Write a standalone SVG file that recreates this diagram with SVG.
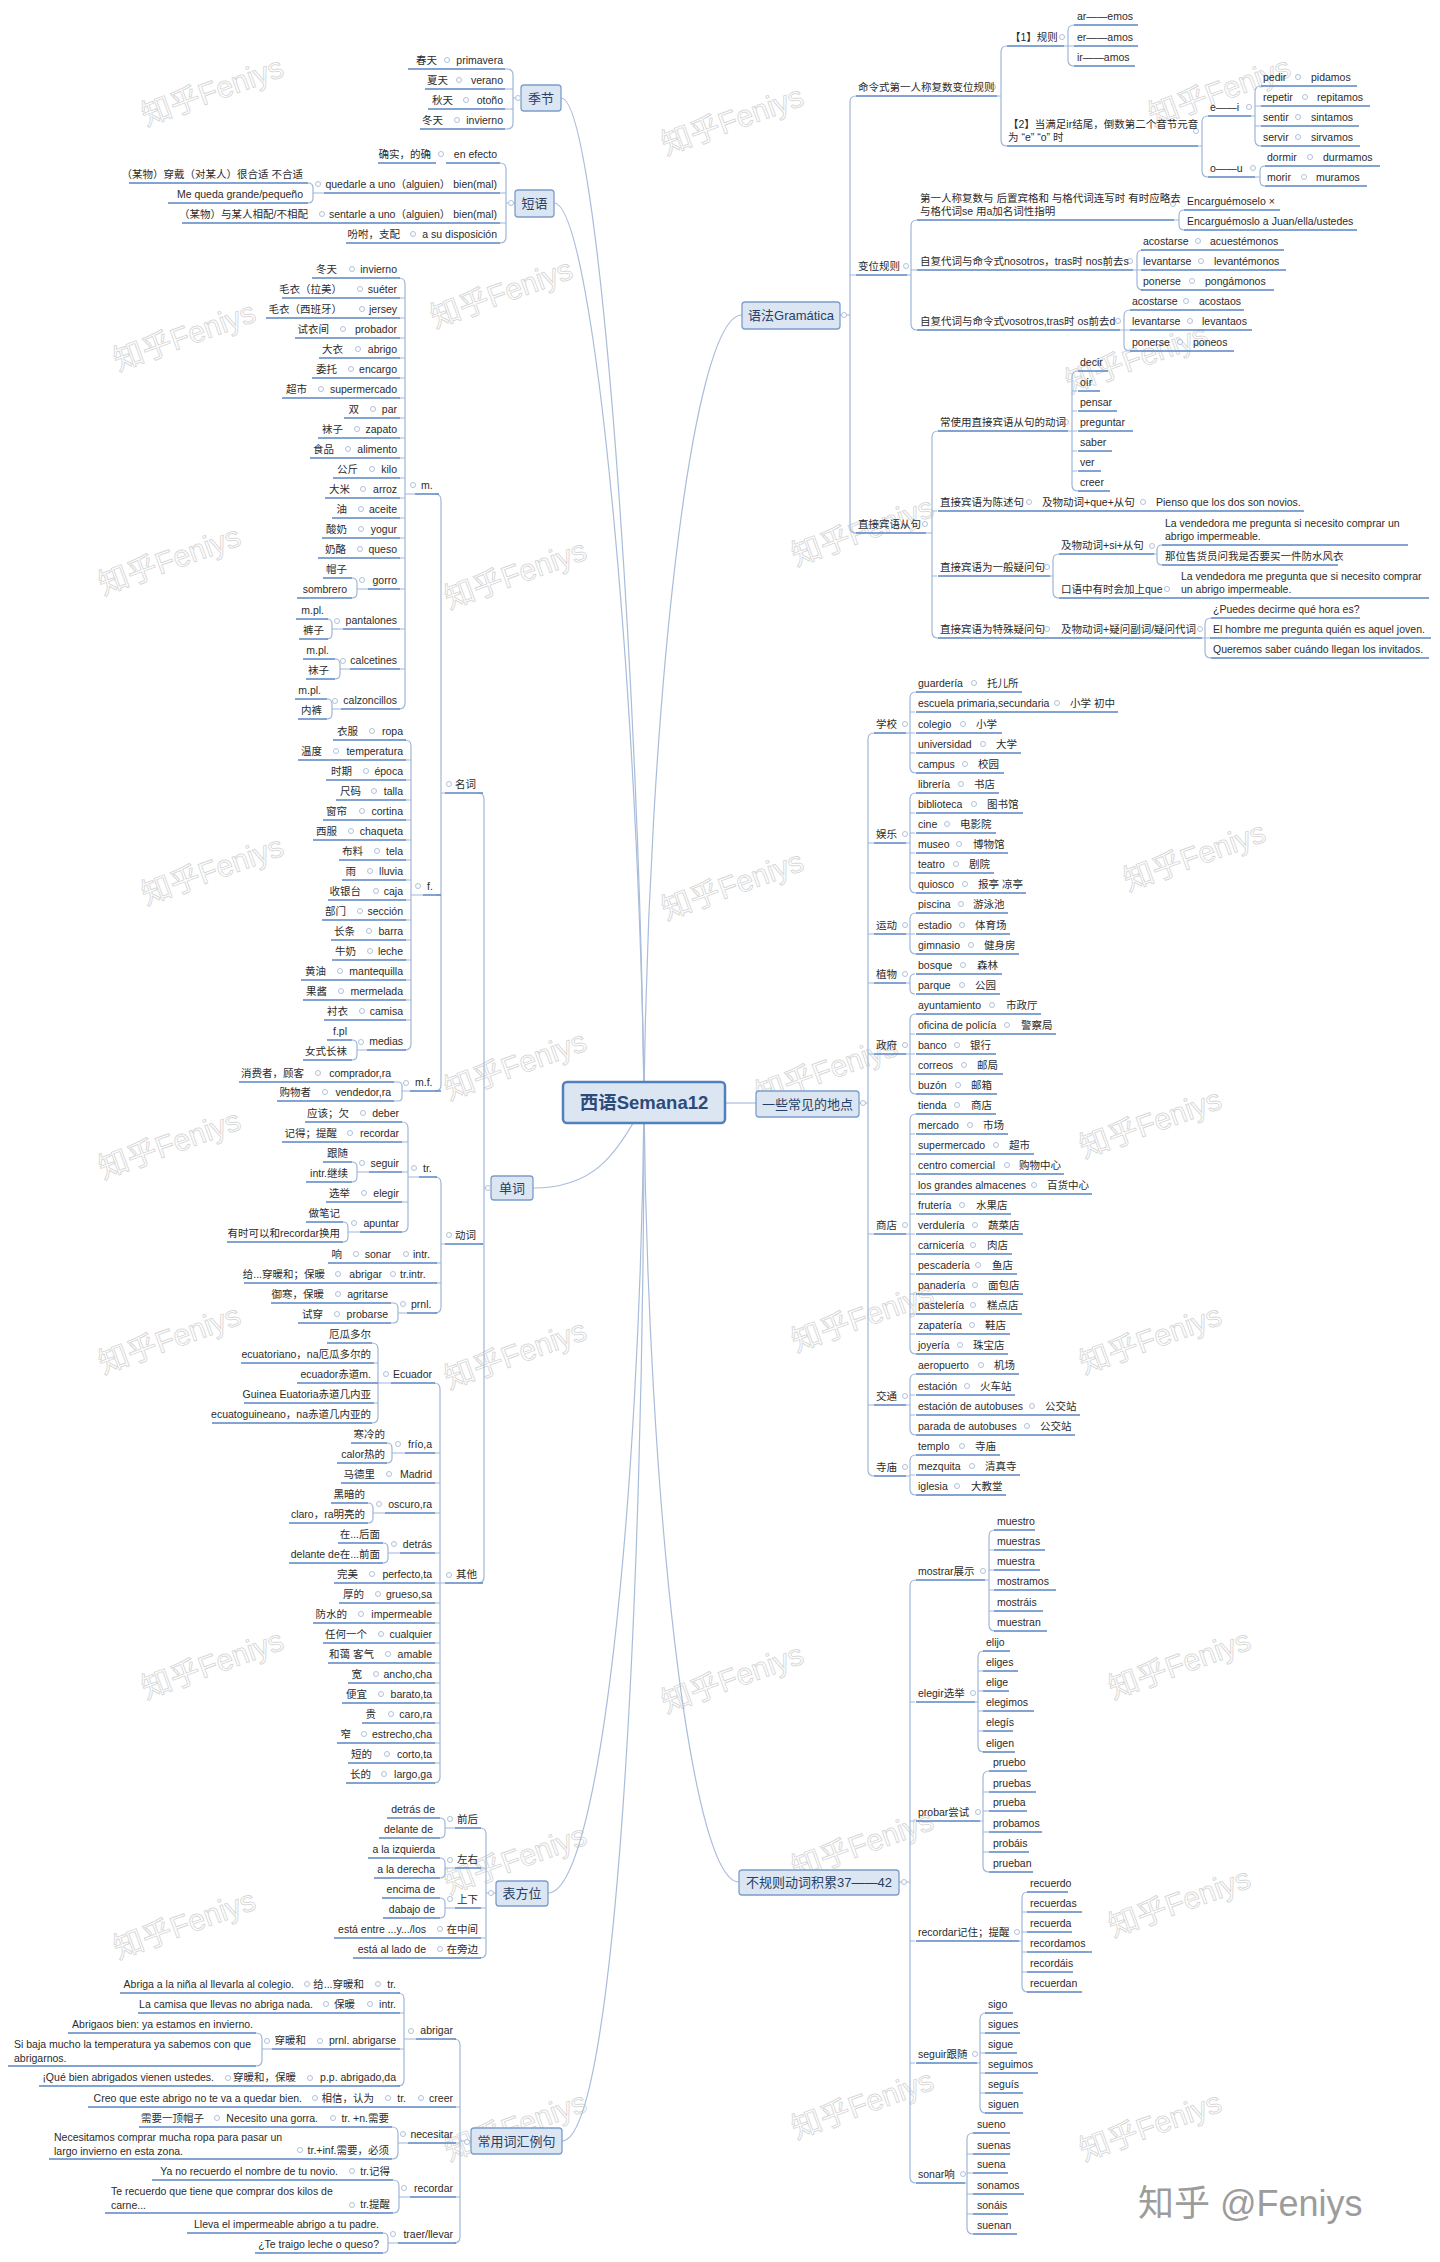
<svg xmlns="http://www.w3.org/2000/svg" width="1440" height="2262" viewBox="0 0 1440 2262">
<defs>
<style>
text{font-family:"Liberation Sans","Noto Sans CJK SC",sans-serif;font-size:10.5px;fill:#2b2b2b}
.r{text-anchor:end}
.u{stroke:#5A86C3;stroke-width:1.5;fill:none}
.c{stroke:#9FB6D9;stroke-width:1.2;fill:none}
.m{stroke:#A9BDDA;stroke-width:1.2;fill:none}
.d{fill:#fff;stroke:#AFC1DA;stroke-width:1}
.bx{fill:#DCE6F2;stroke:#7B9DCC;stroke-width:1.3}
.bt{font-size:13px;fill:#263F66;text-anchor:middle}
.wm{font-size:30px;fill:none;stroke:#d4d4d4;stroke-width:0.8;text-anchor:middle}
</style>
</defs>
<rect width="1440" height="2262" fill="#fff"/>
<g id="watermarks">
<text class="wm" transform="translate(216 101) rotate(-20)">知乎Feniys</text>
<text class="wm" transform="translate(736 130) rotate(-20)">知乎Feniys</text>
<text class="wm" transform="translate(505 303) rotate(-20)">知乎Feniys</text>
<text class="wm" transform="translate(188 346) rotate(-20)">知乎Feniys</text>
<text class="wm" transform="translate(1223 101) rotate(-20)">知乎Feniys</text>
<text class="wm" transform="translate(1140 368) rotate(-20)">知乎Feniys</text>
<text class="wm" transform="translate(173 570) rotate(-20)">知乎Feniys</text>
<text class="wm" transform="translate(519 584) rotate(-20)">知乎Feniys</text>
<text class="wm" transform="translate(866 541) rotate(-20)">知乎Feniys</text>
<text class="wm" transform="translate(216 880) rotate(-20)">知乎Feniys</text>
<text class="wm" transform="translate(736 895) rotate(-20)">知乎Feniys</text>
<text class="wm" transform="translate(1198 866) rotate(-20)">知乎Feniys</text>
<text class="wm" transform="translate(519 1075) rotate(-20)">知乎Feniys</text>
<text class="wm" transform="translate(830 1080) rotate(-20)">知乎Feniys</text>
<text class="wm" transform="translate(173 1154) rotate(-20)">知乎Feniys</text>
<text class="wm" transform="translate(1154 1133) rotate(-20)">知乎Feniys</text>
<text class="wm" transform="translate(173 1349) rotate(-20)">知乎Feniys</text>
<text class="wm" transform="translate(519 1364) rotate(-20)">知乎Feniys</text>
<text class="wm" transform="translate(866 1327) rotate(-20)">知乎Feniys</text>
<text class="wm" transform="translate(1154 1349) rotate(-20)">知乎Feniys</text>
<text class="wm" transform="translate(216 1674) rotate(-20)">知乎Feniys</text>
<text class="wm" transform="translate(736 1688) rotate(-20)">知乎Feniys</text>
<text class="wm" transform="translate(1183 1674) rotate(-20)">知乎Feniys</text>
<text class="wm" transform="translate(188 1934) rotate(-20)">知乎Feniys</text>
<text class="wm" transform="translate(519 1869) rotate(-20)">知乎Feniys</text>
<text class="wm" transform="translate(866 1854) rotate(-20)">知乎Feniys</text>
<text class="wm" transform="translate(1183 1912) rotate(-20)">知乎Feniys</text>
<text class="wm" transform="translate(519 2136) rotate(-20)">知乎Feniys</text>
<text class="wm" transform="translate(866 2114) rotate(-20)">知乎Feniys</text>
<text class="wm" transform="translate(1154 2136) rotate(-20)">知乎Feniys</text>
</g>
<g id="connectors">
<path class="m" d="M644 1103C640 700 600 98 561 98"/>
<path class="m" d="M644 1103C640 720 595 203 554 203"/>
<path class="m" d="M644 1103C648 720 690 315 742 315"/>
<path class="m" d="M644 1103C615 1160 590 1188 533 1188"/>
<path class="m" d="M644 1103C640 1500 600 1893 548 1893"/>
<path class="m" d="M644 1103C644 1600 615 2141 562 2141"/>
<path class="m" d="M644 1103C648 1500 690 1882 739 1882"/>
<path class="m" d="M725 1103H756"/>
<path class="c" d="M521 98H513M513 75V123M513 75Q513 69 507 69H505M513 123Q513 129 507 129H505M513 89H505M513 109H505"/>
<path class="c" d="M515 203H506M506 169V237M506 169Q506 163 500 163M506 237Q506 243 500 243M506 193H500M506 223H500"/>
<path class="c" d="M324 193H313M313 188V198M313 188Q313 183 308 183M313 198Q313 203 308 203"/>
<path class="c" d="M491 1188H484M484 799V1577M484 799Q484 793 478 793M484 1577Q484 1583 478 1583M484 1244H480"/>
<path class="c" d="M445 793H441M441 500V1085M441 500Q441 494 435 494M441 1085Q441 1091 435 1091M441 895H436"/>
<path class="c" d="M415 494H405M405 284V703M405 284Q405 278 399 278M405 703Q405 709 399 709M405 298H399M405 318H399M405 338H399M405 358H399M405 378H399M405 398H399M405 418H399M405 438H399M405 458H399M405 478H399M405 498H399M405 518H399M405 538H399M405 558H399M405 589H399M405 629H399M405 669H399"/>
<path class="c" d="M368 589H357M357 583V593M357 583Q357 578 352 578M357 593Q357 598 352 598"/>
<path class="c" d="M343 629H332M332 624V634M332 624Q332 619 327 619M332 634Q332 639 327 639"/>
<path class="c" d="M350 669H340M340 664V674M340 664Q340 659 335 659M340 674Q340 679 335 679"/>
<path class="c" d="M341 709H332M332 704V714M332 704Q332 699 327 699M332 714Q332 719 327 719"/>
<path class="c" d="M423 895H411M411 746V1044M411 746Q411 740 405 740M411 1044Q411 1050 405 1050M411 760H405M411 780H405M411 800H405M411 820H405M411 840H405M411 860H405M411 880H405M411 900H405M411 920H405M411 940H405M411 960H405M411 980H405M411 1000H405M411 1020H405"/>
<path class="c" d="M367 1050H357M357 1045V1055M357 1045Q357 1040 352 1040M357 1055Q357 1060 352 1060"/>
<path class="c" d="M410 1091H402M402 1086V1097M402 1086Q402 1082 398 1082H394M402 1097Q402 1101 398 1101H394"/>
<path class="c" d="M445 1244H441M441 1183V1307M441 1183Q441 1177 435 1177M441 1307Q441 1313 435 1313M441 1263H436M441 1283H436"/>
<path class="c" d="M419 1177H408M408 1128V1226M408 1128Q408 1122 402 1122M408 1226Q408 1232 402 1232M408 1142H402M408 1172H402M408 1202H402"/>
<path class="c" d="M369 1172H357M357 1167V1177M357 1167Q357 1162 352 1162M357 1177Q357 1182 352 1182"/>
<path class="c" d="M360 1232H348M348 1227V1237M348 1227Q348 1222 343 1222M348 1237Q348 1242 343 1242"/>
<path class="c" d="M407 1313H398M398 1308V1318M398 1308Q398 1303 393 1303H391M398 1318Q398 1323 393 1323H391"/>
<path class="c" d="M445 1583H440M440 1389V1777M440 1389Q440 1383 434 1383M440 1777Q440 1783 434 1783M440 1453H435M440 1483H435M440 1513H435M440 1553H435M440 1583H435M440 1603H435M440 1623H435M440 1643H435M440 1663H435M440 1683H435M440 1703H435M440 1723H435M440 1743H435M440 1763H435"/>
<path class="c" d="M391 1383H378M378 1349V1417M378 1349Q378 1343 372 1343M378 1417Q378 1423 372 1423M378 1363H374M378 1403H374"/>
<path class="c" d="M405 1453H392M392 1448V1458M392 1448Q392 1443 387 1443M392 1458Q392 1463 387 1463"/>
<path class="c" d="M385 1513H373M373 1508V1518M373 1508Q373 1503 368 1503M373 1518Q373 1523 368 1523"/>
<path class="c" d="M400 1553H388M388 1548V1558M388 1548Q388 1543 383 1543M388 1558Q388 1563 383 1563"/>
<path class="c" d="M496 1893H486M486 1834V1952M486 1834Q486 1828 480 1828M486 1952Q486 1958 480 1958M486 1868H481M486 1908H481M486 1938H481"/>
<path class="c" d="M455 1828H445M445 1823V1833M445 1823Q445 1818 440 1818M445 1833Q445 1838 440 1838"/>
<path class="c" d="M455 1868H445M445 1863V1873M445 1863Q445 1858 440 1858M445 1873Q445 1878 440 1878"/>
<path class="c" d="M455 1908H445M445 1903V1913M445 1903Q445 1898 440 1898M445 1913Q445 1918 440 1918"/>
<path class="c" d="M471 2141H460M460 2045V2237M460 2045Q460 2039 454 2039M460 2237Q460 2243 454 2243M460 2107H456M460 2143H456M460 2197H456"/>
<path class="c" d="M416 2039H404M404 1999V2080M404 1999Q404 1993 398 1993M404 2080Q404 2086 398 2086M404 2013H400M404 2049H400"/>
<path class="c" d="M272 2049H262M262 2039V2060M262 2039Q262 2033 256 2033M262 2060Q262 2066 256 2066"/>
<path class="c" d="M408 2143H398M398 2133V2153M398 2133Q398 2127 392 2127M398 2153Q398 2159 392 2159"/>
<path class="c" d="M410 2197H399M399 2186V2207M399 2186Q399 2180 393 2180M399 2207Q399 2213 393 2213"/>
<path class="c" d="M398 2243H388M388 2238V2248M388 2238Q388 2233 383 2233M388 2248Q388 2253 383 2253"/>
<path class="c" d="M840 315H850M850 102V527M850 102Q850 96 856 96M850 527Q850 533 856 533M850 275H856"/>
<path class="c" d="M997 96H1001M1001 52V140M1001 52Q1001 46 1007 46M1001 140Q1001 146 1007 146"/>
<path class="c" d="M1064 46H1074M1068 31V60M1068 31Q1068 25 1074 25M1068 60Q1068 66 1074 66"/>
<path class="c" d="M1198 146H1202M1202 122V171M1202 122Q1202 116 1208 116M1202 171Q1202 177 1208 177"/>
<path class="c" d="M1251 116H1255M1255 92V140M1255 92Q1255 86 1261 86M1255 140Q1255 146 1261 146M1255 106H1261M1255 126H1261"/>
<path class="c" d="M1255 177H1260M1260 171V181M1260 171Q1260 166 1265 166M1260 181Q1260 186 1265 186"/>
<path class="c" d="M907 275H911M911 226V324M911 226Q911 220 917 220M911 324Q911 330 917 330M911 270H917"/>
<path class="c" d="M1174 220H1179M1179 215V225M1179 215Q1179 210 1184 210M1179 225Q1179 230 1184 230"/>
<path class="c" d="M1133 270H1141M1137 256V284M1137 256Q1137 250 1143 250M1137 284Q1137 290 1143 290"/>
<path class="c" d="M1120 330H1130M1124 316V345M1124 316Q1124 310 1130 310M1124 345Q1124 351 1130 351"/>
<path class="c" d="M926 533H932M932 437V632M932 437Q932 431 938 431M932 632Q932 638 938 638M932 511H937M932 576H937"/>
<path class="c" d="M1068 431H1077M1072 377V485M1072 377Q1072 371 1078 371M1072 485Q1072 491 1078 491M1072 391H1077M1072 411H1077M1072 451H1077M1072 471H1077"/>
<path class="c" d="M1050 576H1053M1053 560V592M1053 560Q1053 554 1059 554M1053 592Q1053 598 1059 598"/>
<path class="c" d="M1154 554H1157M1157 550V560M1157 550Q1157 545 1162 545M1157 560Q1157 565 1162 565"/>
<path class="c" d="M1202 638H1210M1205 624V652M1205 624Q1205 618 1211 618M1205 652Q1205 658 1211 658"/>
<path class="c" d="M859 1103H868M868 739V1470M868 739Q868 733 874 733M868 1470Q868 1476 874 1476M868 843H874M868 934H874M868 983H874M868 1054H874M868 1234H874M868 1405H874"/>
<path class="c" d="M906 733H915M910 698V767M910 698Q910 692 916 692M910 767Q910 773 916 773M910 712H915M910 753H915"/>
<path class="c" d="M906 843H910M910 799V887M910 799Q910 793 916 793M910 887Q910 893 916 893M910 813H915M910 833H915M910 853H915M910 873H915"/>
<path class="c" d="M906 934H915M910 919V948M910 919Q910 913 916 913M910 948Q910 954 916 954"/>
<path class="c" d="M906 983H910M910 979V989M910 979Q910 974 915 974M910 989Q910 994 915 994"/>
<path class="c" d="M906 1054H915M910 1020V1088M910 1020Q910 1014 916 1014M910 1088Q910 1094 916 1094M910 1034H915M910 1074H915"/>
<path class="c" d="M906 1234H915M910 1120V1348M910 1120Q910 1114 916 1114M910 1348Q910 1354 916 1354M910 1134H915M910 1154H915M910 1174H915M910 1194H915M910 1214H915M910 1254H915M910 1274H915M910 1294H915M910 1314H915M910 1334H915"/>
<path class="c" d="M906 1405H910M910 1380V1429M910 1380Q910 1374 916 1374M910 1429Q910 1435 916 1435M910 1395H915M910 1415H915"/>
<path class="c" d="M906 1476H910M910 1461V1489M910 1461Q910 1455 916 1455M910 1489Q910 1495 916 1495M910 1475H915"/>
<path class="c" d="M898 1882H910M910 1586V2177M910 1586Q910 1580 916 1580M910 2177Q910 2183 916 2183M910 1702H915M910 1821H915M910 1941H915M910 2063H915"/>
<path class="c" d="M985 1580H989M989 1536V1625M989 1536Q989 1530 995 1530M989 1625Q989 1631 995 1631M989 1550H994M989 1570H994M989 1590H994M989 1611H994"/>
<path class="c" d="M975 1702H978M978 1657V1746M978 1657Q978 1651 984 1651M978 1746Q978 1752 984 1752M978 1671H983M978 1691H983M978 1711H983M978 1731H983"/>
<path class="c" d="M980 1821H983M983 1777V1866M983 1777Q983 1771 989 1771M983 1866Q983 1872 989 1872M983 1792H989M983 1811H989M983 1832H989M983 1852H989"/>
<path class="c" d="M1019 1941H1022M1022 1898V1986M1022 1898Q1022 1892 1028 1892M1022 1986Q1022 1992 1028 1992M1022 1912H1027M1022 1932H1027M1022 1952H1027M1022 1972H1027"/>
<path class="c" d="M977 2063H980M980 2019V2107M980 2019Q980 2013 986 2013M980 2107Q980 2113 986 2113M980 2033H985M980 2053H985M980 2073H985M980 2093H985"/>
<path class="c" d="M965 2183H967M967 2139V2228M967 2139Q967 2133 973 2133M967 2228Q967 2234 973 2234M967 2154H973M967 2173H973M967 2194H973M967 2214H973"/>
</g>
<g id="central"><rect x="563" y="1082" width="162" height="41" rx="4" fill="#DCE6F2" stroke="#4F81BD" stroke-width="2.5"/><text x="644" y="1109" text-anchor="middle" style="font-size:18.5px;font-weight:bold;fill:#2D4B78">西语Semana12</text></g>
<g id="t-jijie"><rect class="bx" x="521" y="85" width="40" height="26" rx="3"/><text class="bt" x="541" y="103">季节</text><circle class="d" cx="518" cy="98" r="2.5"/></g>
<g id="t-duanyu"><rect class="bx" x="515" y="190" width="39" height="27" rx="3"/><text class="bt" x="534.5" y="208">短语</text><circle class="d" cx="511" cy="203" r="2.5"/></g>
<g id="t-danci"><rect class="bx" x="491" y="1176" width="42" height="24" rx="3"/><text class="bt" x="512" y="1193">单词</text><circle class="d" cx="488" cy="1188" r="2.5"/></g>
<g id="t-fangwei"><rect class="bx" x="496" y="1881" width="52" height="25" rx="3"/><text class="bt" x="522" y="1898">表方位</text><circle class="d" cx="491" cy="1893" r="2.5"/></g>
<g id="t-lijuzi"><rect class="bx" x="471" y="2128" width="91" height="26" rx="3"/><text class="bt" x="516.5" y="2146">常用词汇例句</text><circle class="d" cx="467" cy="2142" r="2.5"/></g>
<g id="t-yufa"><rect class="bx" x="742" y="302" width="98" height="27" rx="3"/><text class="bt" x="791" y="320">语法Gramática</text><circle class="d" cx="844" cy="315" r="2.5"/></g>
<g id="t-didian"><rect class="bx" x="756" y="1091" width="103" height="26" rx="3"/><text class="bt" x="807.5" y="1109">一些常见的地点</text><circle class="d" cx="863" cy="1103" r="2.5"/></g>
<g id="t-bugui"><rect class="bx" x="739" y="1870" width="160" height="25" rx="3"/><text class="bt" x="819" y="1887">不规则动词积累37——42</text><circle class="d" cx="904" cy="1882" r="2.5"/></g>

<g id="n-primavera"><path class="u" d="M454 69H505"/><circle class="d" cx="447" cy="60" r="2.5"/><text class="r" x="503" y="64">primavera</text></g>
<g id="n-chuntian"><path class="u" d="M408 69H454"/><text class="r" x="437" y="64">春天</text></g>
<g id="n-verano"><path class="u" d="M464 89H505"/><circle class="d" cx="459" cy="80" r="2.5"/><text class="r" x="503" y="84">verano</text></g>
<g id="n-xiatian"><path class="u" d="M425 89H464"/><text class="r" x="448" y="84">夏天</text></g>
<g id="n-otono"><path class="u" d="M473 109H505"/><circle class="d" cx="466" cy="100" r="2.5"/><text class="r" x="503" y="104">otoño</text></g>
<g id="n-qiutian"><path class="u" d="M428 109H473"/><text class="r" x="453" y="104">秋天</text></g>
<g id="n-invierno0"><path class="u" d="M464 129H505"/><circle class="d" cx="457" cy="120" r="2.5"/><text class="r" x="503" y="124">invierno</text></g>
<g id="n-dongtian0"><path class="u" d="M420 129H464"/><text class="r" x="443" y="124">冬天</text></g>

<g id="n-enefecto"><path class="u" d="M446 163H500"/><circle class="d" cx="441" cy="154" r="2.5"/><text class="r" x="497" y="158">en efecto</text></g>
<g id="n-queshi"><path class="u" d="M378 163H436"/><text class="r" x="431" y="158">确实，的确</text></g>
<g id="n-quedarle"><path class="u" d="M324 193H500"/><circle class="d" cx="318" cy="184" r="2.5"/><text class="r" x="497" y="188">quedarle a uno（alguien） bien(mal)</text></g>
<g id="n-chuandai"><path class="u" d="M129 183H308"/><text class="r" x="303" y="178">（某物）穿戴（对某人）很合适 不合适</text></g>
<g id="n-mequeda"><path class="u" d="M168 203H308"/><text class="r" x="303" y="198">Me queda grande/pequeño</text></g>
<g id="n-sentarle"><path class="u" d="M329 223H500"/><circle class="d" cx="322" cy="214" r="2.5"/><text class="r" x="497" y="218">sentarle a uno（alguien） bien(mal)</text></g>
<g id="n-xiangpei"><path class="u" d="M182 223H329"/><text class="r" x="308" y="218">（某物）与某人相配/不相配</text></g>
<g id="n-asudisp"><path class="u" d="M420 243H500"/><circle class="d" cx="413" cy="234" r="2.5"/><text class="r" x="497" y="238">a su disposición</text></g>
<g id="n-fenfu"><path class="u" d="M346 243H420"/><text class="r" x="400" y="238">吩咐，支配</text></g>

<g id="n-mingci"><path class="u" d="M445 793H483"/><circle class="d" cx="449" cy="784" r="2.5"/><text x="455" y="788">名词</text></g>
<g id="n-m"><path class="u" d="M415 494H439"/><circle class="d" cx="413" cy="485" r="2.5"/><text x="421" y="489">m.</text></g>
<g id="n-m1"><path class="u" d="M357 278H400"/><circle class="d" cx="352" cy="269" r="2.5"/><text class="r" x="397" y="273">invierno</text></g>
<g id="n-m1a"><path class="u" d="M312 278H357"/><text class="r" x="337" y="273">冬天</text></g>
<g id="n-m2"><path class="u" d="M366 298H400"/><circle class="d" cx="360" cy="289" r="2.5"/><text class="r" x="397" y="293">suéter</text></g>
<g id="n-m2a"><path class="u" d="M282 298H366"/><text class="r" x="342" y="293">毛衣（拉美）</text></g>
<g id="n-m3"><path class="u" d="M367 318H400"/><circle class="d" cx="362" cy="309" r="2.5"/><text class="r" x="397" y="313">jersey</text></g>
<g id="n-m3a"><path class="u" d="M266 318H367"/><text class="r" x="342" y="313">毛衣（西班牙）</text></g>
<g id="n-m4"><path class="u" d="M350 338H400"/><circle class="d" cx="343" cy="329" r="2.5"/><text class="r" x="397" y="333">probador</text></g>
<g id="n-m4a"><path class="u" d="M295 338H350"/><text class="r" x="329" y="333">试衣间</text></g>
<g id="n-m5"><path class="u" d="M364 358H400"/><circle class="d" cx="358" cy="349" r="2.5"/><text class="r" x="397" y="353">abrigo</text></g>
<g id="n-m5a"><path class="u" d="M319 358H364"/><text class="r" x="343" y="353">大衣</text></g>
<g id="n-m6"><path class="u" d="M356 378H400"/><circle class="d" cx="351" cy="369" r="2.5"/><text class="r" x="397" y="373">encargo</text></g>
<g id="n-m6a"><path class="u" d="M312 378H356"/><text class="r" x="337" y="373">委托</text></g>
<g id="n-m7"><path class="u" d="M327 398H400"/><circle class="d" cx="321" cy="389" r="2.5"/><text class="r" x="397" y="393">supermercado</text></g>
<g id="n-m7a"><path class="u" d="M282 398H327"/><text class="r" x="307" y="393">超市</text></g>
<g id="n-m8"><path class="u" d="M379 418H400"/><circle class="d" cx="373" cy="409" r="2.5"/><text class="r" x="397" y="413">par</text></g>
<g id="n-m8a"><path class="u" d="M344 418H379"/><text class="r" x="359" y="413">双</text></g>
<g id="n-m9"><path class="u" d="M363 438H400"/><circle class="d" cx="357" cy="429" r="2.5"/><text class="r" x="397" y="433">zapato</text></g>
<g id="n-m9a"><path class="u" d="M318 438H363"/><text class="r" x="343" y="433">袜子</text></g>
<g id="n-m10"><path class="u" d="M354 458H400"/><circle class="d" cx="348" cy="449" r="2.5"/><text class="r" x="397" y="453">alimento</text></g>
<g id="n-m10a"><path class="u" d="M310 458H354"/><text class="r" x="334" y="453">食品</text></g>
<g id="n-m11"><path class="u" d="M379 478H400"/><circle class="d" cx="372" cy="469" r="2.5"/><text class="r" x="397" y="473">kilo</text></g>
<g id="n-m11a"><path class="u" d="M333 478H379"/><text class="r" x="358" y="473">公斤</text></g>
<g id="n-m12"><path class="u" d="M370 498H400"/><circle class="d" cx="363" cy="489" r="2.5"/><text class="r" x="397" y="493">arroz</text></g>
<g id="n-m12a"><path class="u" d="M325 498H370"/><text class="r" x="350" y="493">大米</text></g>
<g id="n-m13"><path class="u" d="M367 518H400"/><circle class="d" cx="361" cy="509" r="2.5"/><text class="r" x="397" y="513">aceite</text></g>
<g id="n-m13a"><path class="u" d="M332 518H367"/><text class="r" x="347" y="513">油</text></g>
<g id="n-m14"><path class="u" d="M367 538H400"/><circle class="d" cx="361" cy="529" r="2.5"/><text class="r" x="397" y="533">yogur</text></g>
<g id="n-m14a"><path class="u" d="M322 538H367"/><text class="r" x="347" y="533">酸奶</text></g>
<g id="n-m15"><path class="u" d="M366 558H400"/><circle class="d" cx="360" cy="549" r="2.5"/><text class="r" x="397" y="553">queso</text></g>
<g id="n-m15a"><path class="u" d="M318 558H366"/><text class="r" x="346" y="553">奶酪</text></g>
<g id="n-gorro"><path class="u" d="M368 589H400"/><circle class="d" cx="362" cy="580" r="2.5"/><text class="r" x="397" y="584">gorro</text></g>
<g id="n-maozi"><path class="u" d="M323 578H352"/><text class="r" x="347" y="573">帽子</text></g>
<g id="n-sombrero"><path class="u" d="M297 598H352"/><text class="r" x="347" y="593">sombrero</text></g>
<g id="n-pantalones"><path class="u" d="M343 629H400"/><circle class="d" cx="337" cy="621" r="2.5"/><text class="r" x="397" y="624">pantalones</text></g>
<g id="n-mpl1"><path class="u" d="M296 619H328"/><text class="r" x="324" y="614">m.pl.</text></g>
<g id="n-kuzi"><path class="u" d="M299 639H328"/><text class="r" x="324" y="634">裤子</text></g>
<g id="n-calcetines"><path class="u" d="M350 669H400"/><circle class="d" cx="343" cy="661" r="2.5"/><text class="r" x="397" y="664">calcetines</text></g>
<g id="n-mpl2"><path class="u" d="M303 659H335"/><text class="r" x="329" y="654">m.pl.</text></g>
<g id="n-wazi2"><path class="u" d="M306 679H335"/><text class="r" x="329" y="674">袜子</text></g>
<g id="n-calzoncillos"><path class="u" d="M341 709H400"/><circle class="d" cx="335" cy="701" r="2.5"/><text class="r" x="397" y="704">calzoncillos</text></g>
<g id="n-mpl3"><path class="u" d="M295 699H327"/><text class="r" x="321" y="694">m.pl.</text></g>
<g id="n-neiku"><path class="u" d="M298 719H327"/><text class="r" x="322" y="714">内裤</text></g>

<g id="n-f"><path class="u" d="M423 895H441"/><circle class="d" cx="418" cy="886" r="2.5"/><text x="427" y="890">f.</text></g>
<g id="n-f1"><path class="u" d="M378 740H406"/><circle class="d" cx="372" cy="731" r="2.5"/><text class="r" x="403" y="735">ropa</text></g>
<g id="n-f1a"><path class="u" d="M333 740H378"/><text class="r" x="358" y="735">衣服</text></g>
<g id="n-f2"><path class="u" d="M343 760H406"/><circle class="d" cx="336" cy="751" r="2.5"/><text class="r" x="403" y="755">temperatura</text></g>
<g id="n-f2a"><path class="u" d="M298 760H343"/><text class="r" x="322" y="755">温度</text></g>
<g id="n-f3"><path class="u" d="M372 780H406"/><circle class="d" cx="366" cy="771" r="2.5"/><text class="r" x="403" y="775">época</text></g>
<g id="n-f3a"><path class="u" d="M326 780H372"/><text class="r" x="352" y="775">时期</text></g>
<g id="n-f4"><path class="u" d="M381 800H406"/><circle class="d" cx="374" cy="791" r="2.5"/><text class="r" x="403" y="795">talla</text></g>
<g id="n-f4a"><path class="u" d="M336 800H381"/><text class="r" x="361" y="795">尺码</text></g>
<g id="n-f5"><path class="u" d="M368 820H406"/><circle class="d" cx="362" cy="811" r="2.5"/><text class="r" x="403" y="815">cortina</text></g>
<g id="n-f5a"><path class="u" d="M323 820H368"/><text class="r" x="347" y="815">窗帘</text></g>
<g id="n-f6"><path class="u" d="M358 840H406"/><circle class="d" cx="351" cy="831" r="2.5"/><text class="r" x="403" y="835">chaqueta</text></g>
<g id="n-f6a"><path class="u" d="M313 840H358"/><text class="r" x="337" y="835">西服</text></g>
<g id="n-f7"><path class="u" d="M384 860H406"/><circle class="d" cx="377" cy="851" r="2.5"/><text class="r" x="403" y="855">tela</text></g>
<g id="n-f7a"><path class="u" d="M339 860H384"/><text class="r" x="363" y="855">布料</text></g>
<g id="n-f8"><path class="u" d="M376 880H406"/><circle class="d" cx="370" cy="871" r="2.5"/><text class="r" x="403" y="875">lluvia</text></g>
<g id="n-f8a"><path class="u" d="M342 880H376"/><text class="r" x="356" y="875">雨</text></g>
<g id="n-f9"><path class="u" d="M382 900H406"/><circle class="d" cx="376" cy="891" r="2.5"/><text class="r" x="403" y="895">caja</text></g>
<g id="n-f9a"><path class="u" d="M328 900H382"/><text class="r" x="361" y="895">收银台</text></g>
<g id="n-f10"><path class="u" d="M366 920H406"/><circle class="d" cx="360" cy="911" r="2.5"/><text class="r" x="403" y="915">sección</text></g>
<g id="n-f10a"><path class="u" d="M322 920H366"/><text class="r" x="346" y="915">部门</text></g>
<g id="n-f11"><path class="u" d="M375 940H406"/><circle class="d" cx="369" cy="931" r="2.5"/><text class="r" x="403" y="935">barra</text></g>
<g id="n-f11a"><path class="u" d="M331 940H375"/><text class="r" x="355" y="935">长条</text></g>
<g id="n-f12"><path class="u" d="M376 960H406"/><circle class="d" cx="370" cy="951" r="2.5"/><text class="r" x="403" y="955">leche</text></g>
<g id="n-f12a"><path class="u" d="M332 960H376"/><text class="r" x="356" y="955">牛奶</text></g>
<g id="n-f13"><path class="u" d="M346 980H406"/><circle class="d" cx="340" cy="971" r="2.5"/><text class="r" x="403" y="975">mantequilla</text></g>
<g id="n-f13a"><path class="u" d="M301 980H346"/><text class="r" x="326" y="975">黄油</text></g>
<g id="n-f14"><path class="u" d="M348 1000H406"/><circle class="d" cx="341" cy="991" r="2.5"/><text class="r" x="403" y="995">mermelada</text></g>
<g id="n-f14a"><path class="u" d="M303 1000H348"/><text class="r" x="327" y="995">果酱</text></g>
<g id="n-f15"><path class="u" d="M369 1020H406"/><circle class="d" cx="362" cy="1011" r="2.5"/><text class="r" x="403" y="1015">camisa</text></g>
<g id="n-f15a"><path class="u" d="M324 1020H369"/><text class="r" x="348" y="1015">衬衣</text></g>
<g id="n-medias"><path class="u" d="M367 1050H406"/><circle class="d" cx="361" cy="1042" r="2.5"/><text class="r" x="403" y="1045">medias</text></g>
<g id="n-fpl"><path class="u" d="M327 1040H352"/><text class="r" x="347" y="1035">f.pl</text></g>
<g id="n-nvshi"><path class="u" d="M303 1060H352"/><text class="r" x="347" y="1055">女式长袜</text></g>
<g id="n-mf"><path class="u" d="M410 1091H441"/><circle class="d" cx="406" cy="1083" r="2.5"/><text x="415" y="1086">m.f.</text></g>
<g id="n-comprador"><path class="u" d="M324 1082H394"/><circle class="d" cx="318" cy="1073" r="2.5"/><text class="r" x="391" y="1077">comprador,ra</text></g>
<g id="n-xiaofei"><path class="u" d="M239 1082H324"/><text class="r" x="304" y="1077">消费者，顾客</text></g>
<g id="n-vendedor"><path class="u" d="M331 1101H394"/><circle class="d" cx="325" cy="1092" r="2.5"/><text class="r" x="391" y="1096">vendedor,ra</text></g>
<g id="n-gouwu"><path class="u" d="M277 1101H331"/><text class="r" x="311" y="1096">购物者</text></g>

<g id="n-dongci"><path class="u" d="M445 1244H483"/><circle class="d" cx="449" cy="1235" r="2.5"/><text x="455" y="1239">动词</text></g>
<g id="n-tr"><path class="u" d="M419 1177H437"/><circle class="d" cx="414" cy="1168" r="2.5"/><text x="423" y="1172">tr.</text></g>
<g id="n-deber"><path class="u" d="M369 1122H402"/><circle class="d" cx="363" cy="1113" r="2.5"/><text class="r" x="399" y="1117">deber</text></g>
<g id="n-yinggai"><path class="u" d="M305 1122H369"/><text class="r" x="349" y="1117">应该；欠</text></g>
<g id="n-recordar1"><path class="u" d="M356 1142H402"/><circle class="d" cx="350" cy="1133" r="2.5"/><text class="r" x="399" y="1137">recordar</text></g>
<g id="n-jide"><path class="u" d="M282 1142H356"/><text class="r" x="337" y="1137">记得；提醒</text></g>
<g id="n-seguir1"><path class="u" d="M369 1172H402"/><circle class="d" cx="362" cy="1163" r="2.5"/><text class="r" x="399" y="1167">seguir</text></g>
<g id="n-gensui"><path class="u" d="M323 1162H352"/><text class="r" x="348" y="1157">跟随</text></g>
<g id="n-jixu"><path class="u" d="M306 1182H352"/><text class="r" x="348" y="1177">intr.继续</text></g>
<g id="n-elegir1"><path class="u" d="M371 1202H402"/><circle class="d" cx="364" cy="1193" r="2.5"/><text class="r" x="399" y="1197">elegir</text></g>
<g id="n-xuanju"><path class="u" d="M326 1202H371"/><text class="r" x="350" y="1197">选举</text></g>
<g id="n-apuntar"><path class="u" d="M360 1232H402"/><circle class="d" cx="354" cy="1223" r="2.5"/><text class="r" x="399" y="1227">apuntar</text></g>
<g id="n-biji"><path class="u" d="M306 1222H343"/><text class="r" x="340" y="1217">做笔记</text></g>
<g id="n-huanyong"><path class="u" d="M227 1242H343"/><text class="r" x="340" y="1237">有时可以和recordar换用</text></g>
<g id="n-intr"><path class="u" d="M409 1263H437"/><circle class="d" cx="406" cy="1254" r="2.5"/><text x="413" y="1258">intr.</text></g>
<g id="n-sonar1"><path class="u" d="M363 1263H409"/><circle class="d" cx="356" cy="1254" r="2.5"/><text class="r" x="391" y="1258">sonar</text></g>
<g id="n-xiang1"><path class="u" d="M328 1263H363"/><text class="r" x="342" y="1258">响</text></g>
<g id="n-trintr"><path class="u" d="M396 1283H437"/><circle class="d" cx="393" cy="1274" r="2.5"/><text x="400" y="1278">tr.intr.</text></g>
<g id="n-abrigar1"><path class="u" d="M345 1283H396"/><circle class="d" cx="338" cy="1274" r="2.5"/><text class="r" x="382" y="1278">abrigar</text></g>
<g id="n-baonuan1"><path class="u" d="M244 1283H345"/><text class="r" x="325" y="1278">给...穿暖和；保暖</text></g>
<g id="n-prnl"><path class="u" d="M407 1313H437"/><circle class="d" cx="403" cy="1304" r="2.5"/><text x="411" y="1308">prnl.</text></g>
<g id="n-agritarse"><path class="u" d="M345 1303H391"/><circle class="d" cx="338" cy="1294" r="2.5"/><text class="r" x="388" y="1298">agritarse</text></g>
<g id="n-yuhan"><path class="u" d="M271 1303H345"/><text class="r" x="324" y="1298">御寒，保暖</text></g>
<g id="n-probarse"><path class="u" d="M343 1323H391"/><circle class="d" cx="337" cy="1314" r="2.5"/><text class="r" x="388" y="1318">probarse</text></g>
<g id="n-shichuan"><path class="u" d="M298 1323H343"/><text class="r" x="323" y="1318">试穿</text></g>

<g id="n-qita"><path class="u" d="M445 1583H483"/><circle class="d" cx="449" cy="1575" r="2.5"/><text x="456" y="1578">其他</text></g>
<g id="n-ecuador"><path class="u" d="M391 1383H435"/><circle class="d" cx="386" cy="1374" r="2.5"/><text class="r" x="432" y="1378">Ecuador</text></g>
<g id="n-ec1"><path class="u" d="M327 1343H372"/><text class="r" x="371" y="1338">厄瓜多尔</text></g>
<g id="n-ec2"><path class="u" d="M241 1363H374"/><text class="r" x="371" y="1358">ecuatoriano，na厄瓜多尔的</text></g>
<g id="n-ec3"><path class="u" d="M297 1383H378"/><text class="r" x="371" y="1378">ecuador赤道m.</text></g>
<g id="n-ec4"><path class="u" d="M244 1403H374"/><text class="r" x="371" y="1398">Guinea Euatoria赤道几内亚</text></g>
<g id="n-ec5"><path class="u" d="M212 1423H372"/><text class="r" x="371" y="1418">ecuatoguineano，na赤道几内亚的</text></g>
<g id="n-frio"><path class="u" d="M405 1453H435"/><circle class="d" cx="398" cy="1444" r="2.5"/><text class="r" x="432" y="1448">frío,a</text></g>
<g id="n-hanleng"><path class="u" d="M351 1443H387"/><text class="r" x="385" y="1438">寒冷的</text></g>
<g id="n-calor"><path class="u" d="M337 1463H387"/><text class="r" x="385" y="1458">calor热的</text></g>
<g id="n-madrid"><path class="u" d="M395 1483H435"/><circle class="d" cx="389" cy="1474" r="2.5"/><text class="r" x="432" y="1478">Madrid</text></g>
<g id="n-madeli"><path class="u" d="M341 1483H395"/><text class="r" x="375" y="1478">马德里</text></g>
<g id="n-oscuro"><path class="u" d="M385 1513H435"/><circle class="d" cx="379" cy="1504" r="2.5"/><text class="r" x="432" y="1508">oscuro,ra</text></g>
<g id="n-heian"><path class="u" d="M331 1503H368"/><text class="r" x="365" y="1498">黑暗的</text></g>
<g id="n-claro"><path class="u" d="M289 1523H368"/><text class="r" x="365" y="1518">claro，ra明亮的</text></g>
<g id="n-detras"><path class="u" d="M400 1553H435"/><circle class="d" cx="394" cy="1544" r="2.5"/><text class="r" x="432" y="1548">detrás</text></g>
<g id="n-houmian"><path class="u" d="M338 1543H383"/><text class="r" x="380" y="1538">在...后面</text></g>
<g id="n-delante"><path class="u" d="M289 1563H383"/><text class="r" x="380" y="1558">delante de在...前面</text></g>
<g id="n-o1"><path class="u" d="M379 1583H435"/><circle class="d" cx="372" cy="1574" r="2.5"/><text class="r" x="432" y="1578">perfecto,ta</text></g>
<g id="n-o1a"><path class="u" d="M334 1583H379"/><text class="r" x="358" y="1578">完美</text></g>
<g id="n-o2"><path class="u" d="M385 1603H435"/><circle class="d" cx="378" cy="1594" r="2.5"/><text class="r" x="432" y="1598">grueso,sa</text></g>
<g id="n-o2a"><path class="u" d="M339 1603H385"/><text class="r" x="364" y="1598">厚的</text></g>
<g id="n-o3"><path class="u" d="M368 1623H435"/><circle class="d" cx="361" cy="1614" r="2.5"/><text class="r" x="432" y="1618">impermeable</text></g>
<g id="n-o3a"><path class="u" d="M313 1623H368"/><text class="r" x="347" y="1618">防水的</text></g>
<g id="n-o4"><path class="u" d="M387 1643H435"/><circle class="d" cx="381" cy="1634" r="2.5"/><text class="r" x="432" y="1638">cualquier</text></g>
<g id="n-o4a"><path class="u" d="M323 1643H387"/><text class="r" x="367" y="1638">任何一个</text></g>
<g id="n-o5"><path class="u" d="M395 1663H435"/><circle class="d" cx="388" cy="1654" r="2.5"/><text class="r" x="432" y="1658">amable</text></g>
<g id="n-o5a"><path class="u" d="M328 1663H395"/><text class="r" x="374" y="1658">和蔼 客气</text></g>
<g id="n-o6"><path class="u" d="M382 1683H435"/><circle class="d" cx="376" cy="1674" r="2.5"/><text class="r" x="432" y="1678">ancho,cha</text></g>
<g id="n-o6a"><path class="u" d="M348 1683H382"/><text class="r" x="362" y="1678">宽</text></g>
<g id="n-o7"><path class="u" d="M387 1703H435"/><circle class="d" cx="381" cy="1694" r="2.5"/><text class="r" x="432" y="1698">barato,ta</text></g>
<g id="n-o7a"><path class="u" d="M342 1703H387"/><text class="r" x="367" y="1698">便宜</text></g>
<g id="n-o8"><path class="u" d="M397 1723H435"/><circle class="d" cx="391" cy="1714" r="2.5"/><text class="r" x="432" y="1718">caro,ra</text></g>
<g id="n-o8a"><path class="u" d="M362 1723H397"/><text class="r" x="376" y="1718">贵</text></g>
<g id="n-o9"><path class="u" d="M371 1743H435"/><circle class="d" cx="364" cy="1734" r="2.5"/><text class="r" x="432" y="1738">estrecho,cha</text></g>
<g id="n-o9a"><path class="u" d="M337 1743H371"/><text class="r" x="351" y="1738">窄</text></g>
<g id="n-o10"><path class="u" d="M393 1763H435"/><circle class="d" cx="387" cy="1754" r="2.5"/><text class="r" x="432" y="1758">corto,ta</text></g>
<g id="n-o10a"><path class="u" d="M348 1763H393"/><text class="r" x="372" y="1758">短的</text></g>
<g id="n-o11"><path class="u" d="M390 1783H435"/><circle class="d" cx="384" cy="1774" r="2.5"/><text class="r" x="432" y="1778">largo,ga</text></g>
<g id="n-o11a"><path class="u" d="M346 1783H390"/><text class="r" x="371" y="1778">长的</text></g>

<g id="n-qianhou"><path class="u" d="M455 1828H481"/><circle class="d" cx="450" cy="1819" r="2.5"/><text class="r" x="478" y="1823">前后</text></g>
<g id="n-detrasde"><path class="u" d="M387 1818H440"/><text class="r" x="435" y="1813">detrás de</text></g>
<g id="n-delantede"><path class="u" d="M379 1838H440"/><text class="r" x="433" y="1833">delante de</text></g>
<g id="n-zuoyou"><path class="u" d="M455 1868H481"/><circle class="d" cx="450" cy="1860" r="2.5"/><text class="r" x="478" y="1863">左右</text></g>
<g id="n-izq"><path class="u" d="M368 1858H440"/><text class="r" x="435" y="1853">a la izquierda</text></g>
<g id="n-der"><path class="u" d="M374 1878H440"/><text class="r" x="435" y="1873">a la derecha</text></g>
<g id="n-shangxia"><path class="u" d="M455 1908H481"/><circle class="d" cx="450" cy="1899" r="2.5"/><text class="r" x="478" y="1903">上下</text></g>
<g id="n-encima"><path class="u" d="M382 1898H440"/><text class="r" x="435" y="1893">encima de</text></g>
<g id="n-dabajo"><path class="u" d="M383 1918H440"/><text class="r" x="435" y="1913">dabajo de</text></g>
<g id="n-zhongjian"><path class="u" d="M445 1938H481"/><circle class="d" cx="440" cy="1929" r="2.5"/><text class="r" x="478" y="1933">在中间</text></g>
<g id="n-entre"><path class="u" d="M334 1938H445"/><text class="r" x="426" y="1933">está entre ...y.../los</text></g>
<g id="n-pangbian"><path class="u" d="M445 1958H481"/><circle class="d" cx="440" cy="1949" r="2.5"/><text class="r" x="478" y="1953">在旁边</text></g>
<g id="n-allado"><path class="u" d="M353 1958H445"/><text class="r" x="426" y="1953">está al lado de</text></g>

<g id="n-abrigar2"><path class="u" d="M416 2039H456"/><circle class="d" cx="411" cy="2031" r="2.5"/><text class="r" x="453" y="2034">abrigar</text></g>
<g id="n-ab-tr"><path class="u" d="M384 1993H400"/><circle class="d" cx="378" cy="1984" r="2.5"/><text class="r" x="396" y="1988">tr.</text></g>
<g id="n-ab-tr1"><path class="u" d="M313 1993H384"/><circle class="d" cx="307" cy="1984" r="2.5"/><text class="r" x="364" y="1988">给...穿暖和</text></g>
<g id="n-ab-tr2"><path class="u" d="M120 1993H313"/><text class="r" x="294" y="1988">Abriga a la niña al llevarla al colegio.</text></g>
<g id="n-ab-intr"><path class="u" d="M376 2013H400"/><circle class="d" cx="370" cy="2004" r="2.5"/><text class="r" x="396" y="2008">intr.</text></g>
<g id="n-ab-intr1"><path class="u" d="M331 2013H376"/><circle class="d" cx="326" cy="2004" r="2.5"/><text class="r" x="355" y="2008">保暖</text></g>
<g id="n-ab-intr2"><path class="u" d="M138 2013H331"/><text class="r" x="313" y="2008">La camisa que llevas no abriga nada.</text></g>
<g id="n-ab-prnl"><path class="u" d="M325 2049H400"/><circle class="d" cx="320" cy="2041" r="2.5"/><text class="r" x="396" y="2044">prnl. abrigarse</text></g>
<g id="n-ab-prnl1"><path class="u" d="M272 2049H325"/><circle class="d" cx="267" cy="2041" r="2.5"/><text class="r" x="306" y="2044">穿暖和</text></g>
<g id="n-ab-prnl2"><path class="u" d="M68 2033H256"/><text class="r" x="253" y="2028">Abrigaos bien: ya estamos en invierno.</text></g>
<g id="n-ab-prnl3"><path class="u" d="M8 2066H256"/><text x="14" y="2048">Si baja mucho la temperatura ya sabemos con que</text><text x="14" y="2062">abrigarnos.</text></g>
<g id="n-ab-pp"><path class="u" d="M315 2086H400"/><circle class="d" cx="310" cy="2078" r="2.5"/><text class="r" x="396" y="2081">p.p. abrigado,da</text></g>
<g id="n-ab-pp1"><path class="u" d="M232 2086H315"/><circle class="d" cx="228" cy="2078" r="2.5"/><text class="r" x="296" y="2081">穿暖和，保暖</text></g>
<g id="n-ab-pp2"><path class="u" d="M39 2086H232"/><text class="r" x="214" y="2081">¡Qué bien abrigados vienen ustedes.</text></g>
<g id="n-creer2"><path class="u" d="M427 2107H456"/><circle class="d" cx="421" cy="2098" r="2.5"/><text class="r" x="453" y="2102">creer</text></g>
<g id="n-cr-tr"><path class="u" d="M393 2107H427"/><circle class="d" cx="388" cy="2098" r="2.5"/><text class="r" x="406" y="2102">tr.</text></g>
<g id="n-cr-1"><path class="u" d="M320 2107H393"/><circle class="d" cx="315" cy="2098" r="2.5"/><text class="r" x="374" y="2102">相信，认为</text></g>
<g id="n-cr-2"><path class="u" d="M88 2107H320"/><text class="r" x="302" y="2102">Creo que este abrigo no te va a quedar bien.</text></g>
<g id="n-necesitar"><path class="u" d="M408 2143H456"/><circle class="d" cx="403" cy="2134" r="2.5"/><text class="r" x="453" y="2138">necesitar</text></g>
<g id="n-ne-1"><path class="u" d="M338 2127H392"/><circle class="d" cx="333" cy="2118" r="2.5"/><text class="r" x="389" y="2122">tr. +n.需要</text></g>
<g id="n-ne-1a"><path class="u" d="M223 2127H338"/><circle class="d" cx="217" cy="2118" r="2.5"/><text class="r" x="318" y="2122">Necesito una gorra.</text></g>
<g id="n-ne-1b"><path class="u" d="M139 2127H223"/><text class="r" x="204" y="2122">需要一顶帽子</text></g>
<g id="n-ne-2"><path class="u" d="M305 2159H392"/><circle class="d" cx="300" cy="2150" r="2.5"/><text class="r" x="389" y="2154">tr.+inf.需要，必须</text></g>
<g id="n-ne-2a"><path class="u" d="M49 2159H305"/><text x="54" y="2141">Necesitamos comprar mucha ropa para pasar un</text><text x="54" y="2155">largo invierno en esta zona.</text></g>
<g id="n-recordar2"><path class="u" d="M410 2197H456"/><circle class="d" cx="404" cy="2188" r="2.5"/><text class="r" x="453" y="2192">recordar</text></g>
<g id="n-re-1"><path class="u" d="M357 2180H393"/><circle class="d" cx="352" cy="2171" r="2.5"/><text class="r" x="390" y="2175">tr.记得</text></g>
<g id="n-re-1a"><path class="u" d="M152 2180H357"/><text class="r" x="338" y="2175">Ya no recuerdo el nombre de tu novio.</text></g>
<g id="n-re-2"><path class="u" d="M357 2213H393"/><circle class="d" cx="352" cy="2205" r="2.5"/><text class="r" x="390" y="2208">tr.提醒</text></g>
<g id="n-re-2a"><path class="u" d="M105 2213H357"/><text x="111" y="2195">Te recuerdo que tiene que comprar dos kilos de</text><text x="111" y="2209">carne...</text></g>
<g id="n-traer"><path class="u" d="M398 2243H456"/><circle class="d" cx="393" cy="2234" r="2.5"/><text class="r" x="453" y="2238">traer/llevar</text></g>
<g id="n-tr-1"><path class="u" d="M187 2233H383"/><text class="r" x="379" y="2228">Lleva el impermeable abrigo a tu padre.</text></g>
<g id="n-tr-2"><path class="u" d="M255 2253H383"/><text class="r" x="379" y="2248">¿Te traigo leche o queso?</text></g>

<g id="n-mingling"><path class="u" d="M856 96H997"/><circle class="d" cx="993" cy="87" r="2.5"/><text x="858" y="91">命令式第一人称复数变位规则</text></g>
<g id="n-guize1"><path class="u" d="M1007 46H1064"/><circle class="d" cx="1062" cy="37" r="2.5"/><text x="1010" y="41">【1】规则</text></g>
<g id="n-ar"><path class="u" d="M1074 25H1138"/><text x="1077" y="20">ar——emos</text></g>
<g id="n-er"><path class="u" d="M1074 46H1138"/><text x="1077" y="41">er——amos</text></g>
<g id="n-ir"><path class="u" d="M1074 66H1135"/><text x="1077" y="61">ir——amos</text></g>
<g id="n-guize2"><path class="u" d="M1007 146H1198"/><circle class="d" cx="1196" cy="131" r="2.5"/><text x="1008" y="128">【2】当满足ir结尾，倒数第二个音节元音</text><text x="1008" y="141">为 “e”  “o” 时</text></g>
<g id="n-ei"><path class="u" d="M1208 116H1251"/><circle class="d" cx="1249" cy="107" r="2.5"/><text x="1210" y="111">e——i</text></g>
<g id="n-pedir"><path class="u" d="M1261 86H1308"/><circle class="d" cx="1298" cy="77" r="2.5"/><text x="1263" y="81">pedir</text></g>
<g id="n-pidamos"><path class="u" d="M1308 86H1357"/><text x="1311" y="81">pidamos</text></g>
<g id="n-repetir"><path class="u" d="M1261 106H1314"/><circle class="d" cx="1305" cy="97" r="2.5"/><text x="1263" y="101">repetir</text></g>
<g id="n-repitamos"><path class="u" d="M1314 106H1370"/><text x="1317" y="101">repitamos</text></g>
<g id="n-sentir"><path class="u" d="M1261 126H1308"/><circle class="d" cx="1298" cy="117" r="2.5"/><text x="1263" y="121">sentir</text></g>
<g id="n-sintamos"><path class="u" d="M1308 126H1359"/><text x="1311" y="121">sintamos</text></g>
<g id="n-servir"><path class="u" d="M1261 146H1308"/><circle class="d" cx="1298" cy="137" r="2.5"/><text x="1263" y="141">servir</text></g>
<g id="n-sirvamos"><path class="u" d="M1308 146H1360"/><text x="1311" y="141">sirvamos</text></g>
<g id="n-ou"><path class="u" d="M1208 177H1255"/><circle class="d" cx="1253" cy="168" r="2.5"/><text x="1210" y="172">o——u</text></g>
<g id="n-dormir"><path class="u" d="M1265 166H1320"/><circle class="d" cx="1310" cy="157" r="2.5"/><text x="1267" y="161">dormir</text></g>
<g id="n-durmamos"><path class="u" d="M1320 166H1380"/><text x="1323" y="161">durmamos</text></g>
<g id="n-morir"><path class="u" d="M1265 186H1313"/><circle class="d" cx="1304" cy="177" r="2.5"/><text x="1267" y="181">morir</text></g>
<g id="n-muramos"><path class="u" d="M1313 186H1367"/><text x="1316" y="181">muramos</text></g>
<g id="n-bianwei"><path class="u" d="M856 275H907"/><circle class="d" cx="906" cy="266" r="2.5"/><text x="858" y="270">变位规则</text></g>
<g id="n-diyi"><path class="u" d="M917 220H1174"/><circle class="d" cx="1173" cy="204" r="2.5"/><text x="920" y="202">第一人称复数与 后置宾格和 与格代词连写时 有时应略去</text><text x="920" y="215">与格代词se 用a加名词性指明</text></g>
<g id="n-enc1"><path class="u" d="M1184 210H1280"/><text x="1187" y="205">Encarguémoselo ×</text></g>
<g id="n-enc2"><path class="u" d="M1184 230H1357"/><text x="1187" y="225">Encarguémoslo a Juan/ella/ustedes</text></g>
<g id="n-nos"><path class="u" d="M917 270H1133"/><circle class="d" cx="1130" cy="261" r="2.5"/><text x="920" y="265">自复代词与命令式nosotros，tras时 nos前去s</text></g>
<g id="n-nos1"><path class="u" d="M1141 250H1207"/><circle class="d" cx="1198" cy="241" r="2.5"/><text x="1143" y="245">acostarse</text></g>
<g id="n-nos1a"><path class="u" d="M1207 250H1284"/><text x="1210" y="245">acuestémonos</text></g>
<g id="n-nos2"><path class="u" d="M1141 270H1211"/><circle class="d" cx="1201" cy="261" r="2.5"/><text x="1143" y="265">levantarse</text></g>
<g id="n-nos2a"><path class="u" d="M1211 270H1286"/><text x="1214" y="265">levantémonos</text></g>
<g id="n-nos3"><path class="u" d="M1141 290H1202"/><circle class="d" cx="1192" cy="281" r="2.5"/><text x="1143" y="285">ponerse</text></g>
<g id="n-nos3a"><path class="u" d="M1202 290H1274"/><text x="1205" y="285">pongámonos</text></g>
<g id="n-vos"><path class="u" d="M917 330H1120"/><circle class="d" cx="1118" cy="321" r="2.5"/><text x="920" y="325">自复代词与命令式vosotros,tras时 os前去d</text></g>
<g id="n-vos1"><path class="u" d="M1130 310H1196"/><circle class="d" cx="1186" cy="301" r="2.5"/><text x="1132" y="305">acostarse</text></g>
<g id="n-vos1a"><path class="u" d="M1196 310H1244"/><text x="1199" y="305">acostaos</text></g>
<g id="n-vos2"><path class="u" d="M1130 330H1199"/><circle class="d" cx="1190" cy="321" r="2.5"/><text x="1132" y="325">levantarse</text></g>
<g id="n-vos2a"><path class="u" d="M1199 330H1252"/><text x="1202" y="325">levantaos</text></g>
<g id="n-vos3"><path class="u" d="M1130 351H1190"/><circle class="d" cx="1180" cy="342" r="2.5"/><text x="1132" y="346">ponerse</text></g>
<g id="n-vos3a"><path class="u" d="M1190 351H1234"/><text x="1193" y="346">poneos</text></g>
<g id="n-zhijie"><path class="u" d="M856 533H926"/><circle class="d" cx="925" cy="524" r="2.5"/><text x="858" y="528">直接宾语从句</text></g>
<g id="n-changshi"><path class="u" d="M938 431H1068"/><circle class="d" cx="1066" cy="422" r="2.5"/><text x="940" y="426">常使用直接宾语从句的动词</text></g>
<g id="n-decir"><path class="u" d="M1078 371H1108"/><text x="1080" y="366">decir</text></g>
<g id="n-oir"><path class="u" d="M1078 391H1100"/><text x="1080" y="386">oír</text></g>
<g id="n-pensar"><path class="u" d="M1078 411H1117"/><text x="1080" y="406">pensar</text></g>
<g id="n-preguntar"><path class="u" d="M1078 431H1133"/><text x="1080" y="426">preguntar</text></g>
<g id="n-saber"><path class="u" d="M1078 451H1112"/><text x="1080" y="446">saber</text></g>
<g id="n-ver"><path class="u" d="M1078 471H1101"/><text x="1080" y="466">ver</text></g>
<g id="n-creer1"><path class="u" d="M1078 491H1110"/><text x="1080" y="486">creer</text></g>
<g id="n-chenshu"><path class="u" d="M938 511H1039"/><circle class="d" cx="1029" cy="502" r="2.5"/><text x="940" y="506">直接宾语为陈述句</text></g>
<g id="n-que"><path class="u" d="M1039 511H1146"/><circle class="d" cx="1143" cy="502" r="2.5"/><text x="1042" y="506">及物动词+que+从句</text></g>
<g id="n-pienso"><path class="u" d="M1146 511H1304"/><text x="1156" y="506">Pienso que los dos son novios.</text></g>
<g id="n-yiban"><path class="u" d="M938 576H1050"/><circle class="d" cx="1047" cy="567" r="2.5"/><text x="940" y="571">直接宾语为一般疑问句</text></g>
<g id="n-si"><path class="u" d="M1059 554H1154"/><circle class="d" cx="1152" cy="546" r="2.5"/><text x="1061" y="549">及物动词+si+从句</text></g>
<g id="n-si1"><path class="u" d="M1162 545H1408"/><text x="1165" y="527">La vendedora me pregunta si necesito comprar un</text><text x="1165" y="540">abrigo impermeable.</text></g>
<g id="n-si2"><path class="u" d="M1162 565H1338"/><text x="1165" y="560">那位售货员问我是否要买一件防水风衣</text></g>
<g id="n-kouyu"><path class="u" d="M1059 598H1170"/><circle class="d" cx="1167" cy="589" r="2.5"/><text x="1061" y="593">口语中有时会加上que</text></g>
<g id="n-kouyu1"><path class="u" d="M1170 598H1429"/><text x="1181" y="580">La vendedora me pregunta que si necesito comprar</text><text x="1181" y="593">un abrigo impermeable.</text></g>
<g id="n-teshu"><path class="u" d="M938 638H1050"/><circle class="d" cx="1047" cy="629" r="2.5"/><text x="940" y="633">直接宾语为特殊疑问句</text></g>
<g id="n-yiwen"><path class="u" d="M1050 638H1202"/><circle class="d" cx="1200" cy="629" r="2.5"/><text x="1061" y="633">及物动词+疑问副词/疑问代词</text></g>
<g id="n-puedes"><path class="u" d="M1211 618H1360"/><text x="1213" y="613">¿Puedes decirme qué hora es?</text></g>
<g id="n-hombre"><path class="u" d="M1210 638H1431"/><text x="1213" y="633">El hombre me pregunta quién es aquel joven.</text></g>
<g id="n-queremos"><path class="u" d="M1211 658H1429"/><text x="1213" y="653">Queremos saber cuándo llegan los invitados.</text></g>

<g id="n-xuexiao"><path class="u" d="M874 733H906"/><circle class="d" cx="905" cy="724" r="2.5"/><text x="876" y="728">学校</text></g>
<g id="n-p1"><path class="u" d="M916 692H984"/><circle class="d" cx="974" cy="683" r="2.5"/><text x="918" y="687">guardería</text></g>
<g id="n-p1a"><path class="u" d="M984 692H1022"/><text x="987" y="687">托儿所</text></g>
<g id="n-p2"><path class="u" d="M916 712H1067"/><circle class="d" cx="1057" cy="703" r="2.5"/><text x="918" y="707">escuela primaria,secundaria</text></g>
<g id="n-p2a"><path class="u" d="M1067 712H1118"/><text x="1070" y="707">小学 初中</text></g>
<g id="n-p3"><path class="u" d="M916 733H973"/><circle class="d" cx="963" cy="724" r="2.5"/><text x="918" y="728">colegio</text></g>
<g id="n-p3a"><path class="u" d="M973 733H1002"/><text x="976" y="728">小学</text></g>
<g id="n-p4"><path class="u" d="M916 753H993"/><circle class="d" cx="983" cy="744" r="2.5"/><text x="918" y="748">universidad</text></g>
<g id="n-p4a"><path class="u" d="M993 753H1021"/><text x="996" y="748">大学</text></g>
<g id="n-p5"><path class="u" d="M916 773H975"/><circle class="d" cx="965" cy="764" r="2.5"/><text x="918" y="768">campus</text></g>
<g id="n-p5a"><path class="u" d="M975 773H1004"/><text x="978" y="768">校园</text></g>
<g id="n-yule"><path class="u" d="M874 843H906"/><circle class="d" cx="905" cy="834" r="2.5"/><text x="876" y="838">娱乐</text></g>
<g id="n-p6"><path class="u" d="M916 793H971"/><circle class="d" cx="961" cy="784" r="2.5"/><text x="918" y="788">librería</text></g>
<g id="n-p6a"><path class="u" d="M971 793H999"/><text x="974" y="788">书店</text></g>
<g id="n-p7"><path class="u" d="M916 813H984"/><circle class="d" cx="974" cy="804" r="2.5"/><text x="918" y="808">biblioteca</text></g>
<g id="n-p7a"><path class="u" d="M984 813H1023"/><text x="987" y="808">图书馆</text></g>
<g id="n-p8"><path class="u" d="M916 833H957"/><circle class="d" cx="947" cy="824" r="2.5"/><text x="918" y="828">cine</text></g>
<g id="n-p8a"><path class="u" d="M957 833H996"/><text x="960" y="828">电影院</text></g>
<g id="n-p9"><path class="u" d="M916 853H970"/><circle class="d" cx="959" cy="844" r="2.5"/><text x="918" y="848">museo</text></g>
<g id="n-p9a"><path class="u" d="M970 853H1008"/><text x="973" y="848">博物馆</text></g>
<g id="n-p10"><path class="u" d="M916 873H966"/><circle class="d" cx="956" cy="864" r="2.5"/><text x="918" y="868">teatro</text></g>
<g id="n-p10a"><path class="u" d="M966 873H994"/><text x="969" y="868">剧院</text></g>
<g id="n-p11"><path class="u" d="M916 893H975"/><circle class="d" cx="965" cy="884" r="2.5"/><text x="918" y="888">quiosco</text></g>
<g id="n-p11a"><path class="u" d="M975 893H1026"/><text x="978" y="888">报亭 凉亭</text></g>
<g id="n-yundong"><path class="u" d="M874 934H906"/><circle class="d" cx="905" cy="925" r="2.5"/><text x="876" y="929">运动</text></g>
<g id="n-p12"><path class="u" d="M916 913H970"/><circle class="d" cx="961" cy="904" r="2.5"/><text x="918" y="908">piscina</text></g>
<g id="n-p12a"><path class="u" d="M970 913H1008"/><text x="973" y="908">游泳池</text></g>
<g id="n-p13"><path class="u" d="M916 934H972"/><circle class="d" cx="962" cy="925" r="2.5"/><text x="918" y="929">estadio</text></g>
<g id="n-p13a"><path class="u" d="M972 934H1010"/><text x="975" y="929">体育场</text></g>
<g id="n-p14"><path class="u" d="M916 954H981"/><circle class="d" cx="971" cy="945" r="2.5"/><text x="918" y="949">gimnasio</text></g>
<g id="n-p14a"><path class="u" d="M981 954H1019"/><text x="984" y="949">健身房</text></g>
<g id="n-zhiwu"><path class="u" d="M874 983H906"/><circle class="d" cx="905" cy="974" r="2.5"/><text x="876" y="978">植物</text></g>
<g id="n-p15"><path class="u" d="M916 974H974"/><circle class="d" cx="963" cy="965" r="2.5"/><text x="918" y="969">bosque</text></g>
<g id="n-p15a"><path class="u" d="M974 974H1002"/><text x="977" y="969">森林</text></g>
<g id="n-p16"><path class="u" d="M916 994H972"/><circle class="d" cx="962" cy="985" r="2.5"/><text x="918" y="989">parque</text></g>
<g id="n-p16a"><path class="u" d="M972 994H1000"/><text x="975" y="989">公园</text></g>
<g id="n-zhengfu"><path class="u" d="M874 1054H906"/><circle class="d" cx="905" cy="1045" r="2.5"/><text x="876" y="1049">政府</text></g>
<g id="n-p17"><path class="u" d="M916 1014H1003"/><circle class="d" cx="992" cy="1005" r="2.5"/><text x="918" y="1009">ayuntamiento</text></g>
<g id="n-p17a"><path class="u" d="M1003 1014H1041"/><text x="1006" y="1009">市政厅</text></g>
<g id="n-p18"><path class="u" d="M916 1034H1018"/><circle class="d" cx="1007" cy="1025" r="2.5"/><text x="918" y="1029">oficina de policía</text></g>
<g id="n-p18a"><path class="u" d="M1018 1034H1056"/><text x="1021" y="1029">警察局</text></g>
<g id="n-p19"><path class="u" d="M916 1054H967"/><circle class="d" cx="957" cy="1045" r="2.5"/><text x="918" y="1049">banco</text></g>
<g id="n-p19a"><path class="u" d="M967 1054H996"/><text x="970" y="1049">银行</text></g>
<g id="n-p20"><path class="u" d="M916 1074H974"/><circle class="d" cx="964" cy="1065" r="2.5"/><text x="918" y="1069">correos</text></g>
<g id="n-p20a"><path class="u" d="M974 1074H1003"/><text x="977" y="1069">邮局</text></g>
<g id="n-p21"><path class="u" d="M916 1094H968"/><circle class="d" cx="958" cy="1085" r="2.5"/><text x="918" y="1089">buzón</text></g>
<g id="n-p21a"><path class="u" d="M968 1094H997"/><text x="971" y="1089">邮箱</text></g>
<g id="n-shangdian"><path class="u" d="M874 1234H906"/><circle class="d" cx="905" cy="1225" r="2.5"/><text x="876" y="1229">商店</text></g>
<g id="n-p22"><path class="u" d="M916 1114H968"/><circle class="d" cx="957" cy="1105" r="2.5"/><text x="918" y="1109">tienda</text></g>
<g id="n-p22a"><path class="u" d="M968 1114H996"/><text x="971" y="1109">商店</text></g>
<g id="n-p23"><path class="u" d="M916 1134H980"/><circle class="d" cx="970" cy="1125" r="2.5"/><text x="918" y="1129">mercado</text></g>
<g id="n-p23a"><path class="u" d="M980 1134H1008"/><text x="983" y="1129">市场</text></g>
<g id="n-p24"><path class="u" d="M916 1154H1006"/><circle class="d" cx="996" cy="1145" r="2.5"/><text x="918" y="1149">supermercado</text></g>
<g id="n-p24a"><path class="u" d="M1006 1154H1034"/><text x="1009" y="1149">超市</text></g>
<g id="n-p25"><path class="u" d="M916 1174H1016"/><circle class="d" cx="1007" cy="1165" r="2.5"/><text x="918" y="1169">centro comercial</text></g>
<g id="n-p25a"><path class="u" d="M1016 1174H1064"/><text x="1019" y="1169">购物中心</text></g>
<g id="n-p26"><path class="u" d="M916 1194H1044"/><circle class="d" cx="1034" cy="1185" r="2.5"/><text x="918" y="1189">los grandes almacenes</text></g>
<g id="n-p26a"><path class="u" d="M1044 1194H1092"/><text x="1047" y="1189">百货中心</text></g>
<g id="n-p27"><path class="u" d="M916 1214H973"/><circle class="d" cx="962" cy="1205" r="2.5"/><text x="918" y="1209">frutería</text></g>
<g id="n-p27a"><path class="u" d="M973 1214H1011"/><text x="976" y="1209">水果店</text></g>
<g id="n-p28"><path class="u" d="M916 1234H985"/><circle class="d" cx="975" cy="1225" r="2.5"/><text x="918" y="1229">verdulería</text></g>
<g id="n-p28a"><path class="u" d="M985 1234H1023"/><text x="988" y="1229">蔬菜店</text></g>
<g id="n-p29"><path class="u" d="M916 1254H984"/><circle class="d" cx="973" cy="1245" r="2.5"/><text x="918" y="1249">carnicería</text></g>
<g id="n-p29a"><path class="u" d="M984 1254H1012"/><text x="987" y="1249">肉店</text></g>
<g id="n-p30"><path class="u" d="M916 1274H989"/><circle class="d" cx="978" cy="1265" r="2.5"/><text x="918" y="1269">pescadería</text></g>
<g id="n-p30a"><path class="u" d="M989 1274H1017"/><text x="992" y="1269">鱼店</text></g>
<g id="n-p31"><path class="u" d="M916 1294H985"/><circle class="d" cx="975" cy="1285" r="2.5"/><text x="918" y="1289">panadería</text></g>
<g id="n-p31a"><path class="u" d="M985 1294H1023"/><text x="988" y="1289">面包店</text></g>
<g id="n-p32"><path class="u" d="M916 1314H984"/><circle class="d" cx="973" cy="1305" r="2.5"/><text x="918" y="1309">pastelería</text></g>
<g id="n-p32a"><path class="u" d="M984 1314H1022"/><text x="987" y="1309">糕点店</text></g>
<g id="n-p33"><path class="u" d="M916 1334H982"/><circle class="d" cx="972" cy="1325" r="2.5"/><text x="918" y="1329">zapatería</text></g>
<g id="n-p33a"><path class="u" d="M982 1334H1010"/><text x="985" y="1329">鞋店</text></g>
<g id="n-p34"><path class="u" d="M916 1354H970"/><circle class="d" cx="960" cy="1345" r="2.5"/><text x="918" y="1349">joyería</text></g>
<g id="n-p34a"><path class="u" d="M970 1354H1008"/><text x="973" y="1349">珠宝店</text></g>
<g id="n-jiaotong"><path class="u" d="M874 1405H906"/><circle class="d" cx="905" cy="1396" r="2.5"/><text x="876" y="1400">交通</text></g>
<g id="n-p35"><path class="u" d="M916 1374H991"/><circle class="d" cx="981" cy="1365" r="2.5"/><text x="918" y="1369">aeropuerto</text></g>
<g id="n-p35a"><path class="u" d="M991 1374H1019"/><text x="994" y="1369">机场</text></g>
<g id="n-p36"><path class="u" d="M916 1395H977"/><circle class="d" cx="967" cy="1386" r="2.5"/><text x="918" y="1390">estación</text></g>
<g id="n-p36a"><path class="u" d="M977 1395H1015"/><text x="980" y="1390">火车站</text></g>
<g id="n-p37"><path class="u" d="M916 1415H1042"/><circle class="d" cx="1032" cy="1406" r="2.5"/><text x="918" y="1410">estación de autobuses</text></g>
<g id="n-p37a"><path class="u" d="M1042 1415H1080"/><text x="1045" y="1410">公交站</text></g>
<g id="n-p38"><path class="u" d="M916 1435H1037"/><circle class="d" cx="1027" cy="1426" r="2.5"/><text x="918" y="1430">parada de autobuses</text></g>
<g id="n-p38a"><path class="u" d="M1037 1435H1075"/><text x="1040" y="1430">公交站</text></g>
<g id="n-simiao"><path class="u" d="M874 1476H906"/><circle class="d" cx="905" cy="1467" r="2.5"/><text x="876" y="1471">寺庙</text></g>
<g id="n-p39"><path class="u" d="M916 1455H972"/><circle class="d" cx="962" cy="1446" r="2.5"/><text x="918" y="1450">templo</text></g>
<g id="n-p39a"><path class="u" d="M972 1455H1000"/><text x="975" y="1450">寺庙</text></g>
<g id="n-p40"><path class="u" d="M916 1475H982"/><circle class="d" cx="972" cy="1466" r="2.5"/><text x="918" y="1470">mezquita</text></g>
<g id="n-p40a"><path class="u" d="M982 1475H1020"/><text x="985" y="1470">清真寺</text></g>
<g id="n-p41"><path class="u" d="M916 1495H968"/><circle class="d" cx="957" cy="1486" r="2.5"/><text x="918" y="1490">iglesia</text></g>
<g id="n-p41a"><path class="u" d="M968 1495H1006"/><text x="971" y="1490">大教堂</text></g>

<g id="n-mostrar"><path class="u" d="M916 1580H985"/><circle class="d" cx="983" cy="1571" r="2.5"/><text x="918" y="1575">mostrar展示</text></g>
<g id="n-v1"><path class="u" d="M994 1530H1035"/><text x="997" y="1525">muestro</text></g>
<g id="n-v2"><path class="u" d="M994 1550H1045"/><text x="997" y="1545">muestras</text></g>
<g id="n-v3"><path class="u" d="M994 1570H1040"/><text x="997" y="1565">muestra</text></g>
<g id="n-v4"><path class="u" d="M994 1590H1056"/><text x="997" y="1585">mostramos</text></g>
<g id="n-v5"><path class="u" d="M994 1611H1043"/><text x="997" y="1606">mostráis</text></g>
<g id="n-v6"><path class="u" d="M994 1631H1047"/><text x="997" y="1626">muestran</text></g>
<g id="n-elegir2"><path class="u" d="M916 1702H975"/><circle class="d" cx="973" cy="1693" r="2.5"/><text x="918" y="1697">elegir选举</text></g>
<g id="n-v7"><path class="u" d="M983 1651H1010"/><text x="986" y="1646">elijo</text></g>
<g id="n-v8"><path class="u" d="M983 1671H1018"/><text x="986" y="1666">eliges</text></g>
<g id="n-v9"><path class="u" d="M983 1691H1009"/><text x="986" y="1686">elige</text></g>
<g id="n-v10"><path class="u" d="M983 1711H1034"/><text x="986" y="1706">elegimos</text></g>
<g id="n-v11"><path class="u" d="M983 1731H1013"/><text x="986" y="1726">elegís</text></g>
<g id="n-v12"><path class="u" d="M983 1752H1015"/><text x="986" y="1747">eligen</text></g>
<g id="n-probar"><path class="u" d="M916 1821H980"/><circle class="d" cx="978" cy="1812" r="2.5"/><text x="918" y="1816">probar尝试</text></g>
<g id="n-v13"><path class="u" d="M989 1771H1027"/><text x="993" y="1766">pruebo</text></g>
<g id="n-v14"><path class="u" d="M989 1792H1036"/><text x="993" y="1787">pruebas</text></g>
<g id="n-v15"><path class="u" d="M989 1811H1027"/><text x="993" y="1806">prueba</text></g>
<g id="n-v16"><path class="u" d="M989 1832H1042"/><text x="993" y="1827">probamos</text></g>
<g id="n-v17"><path class="u" d="M989 1852H1029"/><text x="993" y="1847">probáis</text></g>
<g id="n-v18"><path class="u" d="M989 1872H1033"/><text x="993" y="1867">prueban</text></g>
<g id="n-recordar3"><path class="u" d="M916 1941H1019"/><circle class="d" cx="1017" cy="1932" r="2.5"/><text x="918" y="1936">recordar记住；提醒</text></g>
<g id="n-v19"><path class="u" d="M1027 1892H1068"/><text x="1030" y="1887">recuerdo</text></g>
<g id="n-v20"><path class="u" d="M1027 1912H1082"/><text x="1030" y="1907">recuerdas</text></g>
<g id="n-v21"><path class="u" d="M1027 1932H1072"/><text x="1030" y="1927">recuerda</text></g>
<g id="n-v22"><path class="u" d="M1027 1952H1092"/><text x="1030" y="1947">recordamos</text></g>
<g id="n-v23"><path class="u" d="M1027 1972H1073"/><text x="1030" y="1967">recordáis</text></g>
<g id="n-v24"><path class="u" d="M1027 1992H1082"/><text x="1030" y="1987">recuerdan</text></g>
<g id="n-seguir2"><path class="u" d="M916 2063H977"/><circle class="d" cx="975" cy="2054" r="2.5"/><text x="918" y="2058">seguir跟随</text></g>
<g id="n-v25"><path class="u" d="M985 2013H1013"/><text x="988" y="2008">sigo</text></g>
<g id="n-v26"><path class="u" d="M985 2033H1020"/><text x="988" y="2028">sigues</text></g>
<g id="n-v27"><path class="u" d="M985 2053H1017"/><text x="988" y="2048">sigue</text></g>
<g id="n-v28"><path class="u" d="M985 2073H1038"/><text x="988" y="2068">seguimos</text></g>
<g id="n-v29"><path class="u" d="M985 2093H1023"/><text x="988" y="2088">seguís</text></g>
<g id="n-v30"><path class="u" d="M985 2113H1023"/><text x="988" y="2108">siguen</text></g>
<g id="n-sonar2"><path class="u" d="M916 2183H965"/><circle class="d" cx="963" cy="2174" r="2.5"/><text x="918" y="2178">sonar响</text></g>
<g id="n-v31"><path class="u" d="M973 2133H1010"/><text x="977" y="2128">sueno</text></g>
<g id="n-v32"><path class="u" d="M973 2154H1010"/><text x="977" y="2149">suenas</text></g>
<g id="n-v33"><path class="u" d="M973 2173H1008"/><text x="977" y="2168">suena</text></g>
<g id="n-v34"><path class="u" d="M973 2194H1024"/><text x="977" y="2189">sonamos</text></g>
<g id="n-v35"><path class="u" d="M973 2214H1008"/><text x="977" y="2209">sonáis</text></g>
<g id="n-v36"><path class="u" d="M973 2234H1017"/><text x="977" y="2229">suenan</text></g>
<text x="1138" y="2216" style="font-size:36px;fill:#9c9c9c">知乎 @Feniys</text>
</svg>
